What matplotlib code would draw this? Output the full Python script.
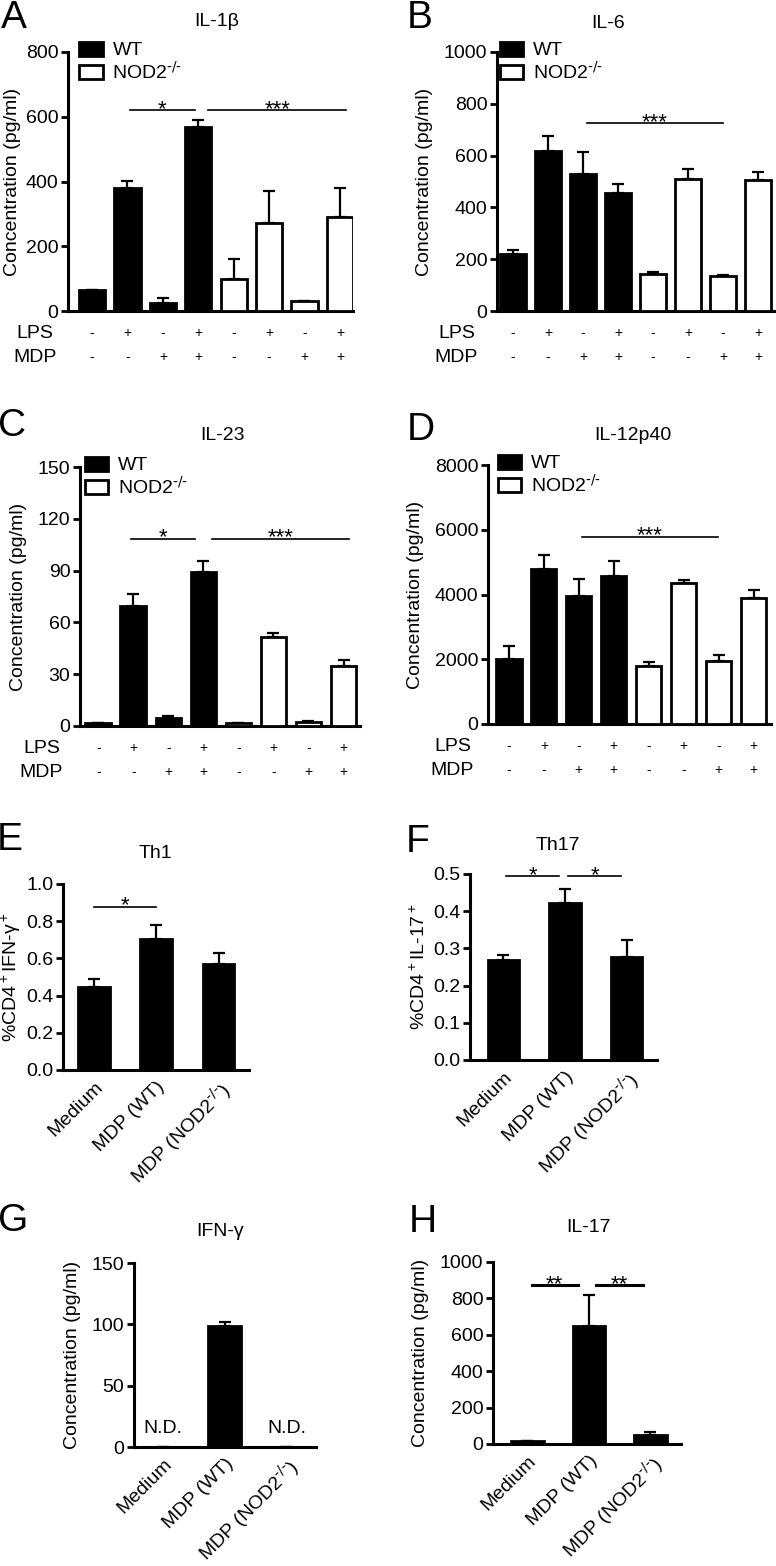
import matplotlib
matplotlib.use("Agg")
import matplotlib.pyplot as plt
from matplotlib.patches import Patch
from matplotlib.transforms import blended_transform_factory

plt.rcParams['font.family'] = ['Liberation Sans', 'DejaVu Sans']
plt.rcParams['mathtext.default'] = 'regular'
plt.rcParams['font.size'] = 14

# ---- data ----
lps = ['-', '+', '-', '+', '-', '+', '-', '+']
mdp = ['-', '-', '+', '+', '-', '-', '+', '+']
groups = ['WT', r'NOD2$^{\text{-/-}}$']
treat_labels = ['Medium', 'MDP (WT)', r'MDP (NOD2$^{\text{-/-}}$)']

il1b = [64, 380, 26, 568, 99, 273, 30, 291]
il1b_err = [0, 22, 14, 23, 61, 97, 0, 88]
il6 = [222, 619, 530, 454, 143, 510, 135, 506]
il6_err = [15, 55, 83, 38, 8, 37, 3, 29]
il23 = [2, 69.6, 4.8, 89.3, 1.5, 51.7, 2.1, 34.9]
il23_err = [0, 6.7, 1.2, 6.1, 0, 1.9, 0.8, 3.3]
il12 = [2005, 4802, 3969, 4586, 1779, 4350, 1954, 3897]
il12_err = [411, 432, 525, 453, 144, 92, 164, 237]

th1 = [0.448, 0.704, 0.568]
th1_err = [0.041, 0.077, 0.059]
th17 = [0.268, 0.423, 0.277]
th17_err = [0.015, 0.037, 0.045]
ifng = [0, 99, 0]
ifng_err = [0, 2.7, 0]
ifng_nd = [True, False, True]
il17 = [14.6, 648, 51]
il17_err = [0, 169, 15]

W, H = 776, 1566
fig = plt.figure(figsize=(W / 100, H / 100), dpi=100)


def box(l, t, r, b):
    return [l / W, 1 - b / H, (r - l) / W, (b - t) / H]


def style(ax, xlim, yticks, fmt=None):
    ax.set_xlim(*xlim)
    ax.set_ylim(yticks[0], yticks[-1])
    ax.set_yticks(yticks)
    if fmt:
        ax.set_yticklabels([fmt.format(t) for t in yticks])
    for s in ['top', 'right']:
        ax.spines[s].set_visible(False)
    for s in ['left', 'bottom']:
        ax.spines[s].set_linewidth(2.2)
    ax.tick_params(axis='y', direction='out', length=5, width=2, pad=2, labelsize=14)
    ax.tick_params(axis='x', length=0)


def bars(ax, vals, errs, colors, width):
    x = list(range(len(vals)))
    ax.bar(x, vals, width=width, color=colors, edgecolor='black', linewidth=2, zorder=3)
    ax.errorbar(x, vals, yerr=[[0] * len(vals), errs], fmt='none', ecolor='black',
                elinewidth=1.6, capsize=4.5, capthick=1.6, zorder=2)


def sig(ax, x0, x1, y, stars, lw=1.2):
    ax.plot([x0, x1], [y, y], color='black', lw=lw, clip_on=False, zorder=4)
    ax.annotate(stars, ((x0 + x1) / 2, y), xytext=(0, -3.5), textcoords='offset points',
                ha='center', va='baseline', fontsize=16)


def flags(ax):
    tr = blended_transform_factory(ax.transData, ax.transAxes)
    ax.set_xticks([])
    for i in range(8):
        ax.text(i, -0.085, lps[i], transform=tr, ha='center', va='center', fontsize=10)
        ax.text(i, -0.178, mdp[i], transform=tr, ha='center', va='center', fontsize=10)
    ax.text(-1.62, -0.085, 'LPS', transform=tr, ha='center', va='center', fontsize=14)
    ax.text(-1.62, -0.178, 'MDP', transform=tr, ha='center', va='center', fontsize=14)


def legend(ax, x0):
    h = [Patch(facecolor='black', edgecolor='black', lw=2),
         Patch(facecolor='white', edgecolor='black', lw=2)]
    ax.legend(h, groups, loc='upper left', bbox_to_anchor=(x0, 1.04), frameon=False,
              borderpad=0, borderaxespad=0, handlelength=1.2, handleheight=0.72,
              handletextpad=0.5, labelspacing=0.1, fontsize=14)


def treat_ticks(ax):
    ax.set_xticks([0, 1, 2])
    ax.set_xticklabels(treat_labels, rotation=45, ha='right', rotation_mode='anchor', fontsize=14)
    ax.tick_params(axis='x', pad=6)


colors8 = ['black'] * 4 + ['white'] * 4
conc = 'Concentration (pg/ml)'

# A
ax = fig.add_axes(box(68, 52, 353, 311))
bars(ax, il1b, il1b_err, colors8, 0.74)
style(ax, (-0.68, 7.37), [0, 200, 400, 600, 800])
ax.set_ylabel(conc, fontsize=14, labelpad=3)
legend(ax, 0.04)
flags(ax)
sig(ax, 1.07, 2.9, 620, '*')
sig(ax, 3.28, 7.18, 620, '***')

# B
ax = fig.add_axes(box(497, 52, 776, 311))
bars(ax, il6, il6_err, colors8, 0.73)
style(ax, (-0.46, 7.51), [0, 200, 400, 600, 800, 1000])
ax.set_ylabel(conc, fontsize=14, labelpad=8)
legend(ax, 0.01)
flags(ax)
sig(ax, 2.1, 6.0, 725, '***')

# C
ax = fig.add_axes(box(80, 467, 360, 726))
bars(ax, il23, il23_err, colors8, 0.73)
style(ax, (-0.52, 7.47), [0, 30, 60, 90, 120, 150])
ax.set_ylabel(conc, fontsize=14, labelpad=8)
legend(ax, 0.018)
flags(ax)
sig(ax, 0.93, 2.76, 108.5, '*')
sig(ax, 3.26, 7.16, 108.5, '***')

# D
ax = fig.add_axes(box(488, 465, 771, 724))
bars(ax, il12, il12_err, colors8, 0.72)
style(ax, (-0.6, 7.5), [0, 2000, 4000, 6000, 8000])
ax.set_ylabel(conc, fontsize=14, labelpad=8)
legend(ax, 0.035)
flags(ax)
sig(ax, 2.09, 5.99, 5789, '***')

# E
ax = fig.add_axes(box(63, 884, 249, 1070))
bars(ax, th1, th1_err, ['black'] * 3, 0.51)
style(ax, (-0.5, 2.49), [0.0, 0.2, 0.4, 0.6, 0.8, 1.0], '{:.1f}')
ax.set_ylabel('%CD4$^+$IFN-γ$^+$', fontsize=14, labelpad=2)
treat_ticks(ax)
sig(ax, 0, 1, 0.878, '*')

# F
ax = fig.add_axes(box(470, 874, 657, 1060))
bars(ax, th17, th17_err, ['black'] * 3, 0.51)
style(ax, (-0.54, 2.49), [0.0, 0.1, 0.2, 0.3, 0.4, 0.5], '{:.1f}')
ax.set_ylabel('%CD4$^+$IL-17$^+$', fontsize=14, labelpad=3)
treat_ticks(ax)
sig(ax, 0.05, 0.9, 0.494, '*')
sig(ax, 1.05, 1.91, 0.494, '*')

# G
ax = fig.add_axes(box(134, 1263, 316, 1447))
bars(ax, ifng, ifng_err, ['black'] * 3, 0.53)
style(ax, (-0.47, 2.48), [0, 50, 100, 150])
ax.set_ylabel(conc, fontsize=14, labelpad=8)
treat_ticks(ax)
for i, nd in enumerate(ifng_nd):
    if nd:
        ax.text(i, 8, 'N.D.', ha='center', va='bottom', fontsize=14)

# H
ax = fig.add_axes(box(493, 1262, 681, 1444))
bars(ax, il17, il17_err, ['black'] * 3, 0.53)
style(ax, (-0.56, 2.5), [0, 200, 400, 600, 800, 1000])
ax.set_ylabel(conc, fontsize=14, labelpad=8)
treat_ticks(ax)
sig(ax, 0.07, 0.82, 872, '**', lw=2.2)
sig(ax, 1.12, 1.88, 872, '**', lw=2.2)

# titles and panel letters
titles = [('IL-1β', 217, 22), ('IL-6', 608, 24), ('IL-23', 222, 435), ('IL-12p40', 633, 435),
          ('Th1', 155, 854), ('Th17', 558, 845), ('IFN-γ', 220, 1232), ('IL-17', 588, 1228)]
for t, x, y in titles:
    fig.text(x / W, 1 - y / H, t, ha='center', va='center', fontsize=14)

letters = [('A', 14, 18), ('B', 420, 18), ('C', 12, 426), ('D', 421, 430),
           ('E', 10, 840), ('F', 418, 842), ('G', 13, 1221), ('H', 423, 1222)]
for t, x, y in letters:
    fig.text(x / W, 1 - y / H, t, ha='center', va='center', fontsize=28)

fig.savefig('out.png', dpi=100)
